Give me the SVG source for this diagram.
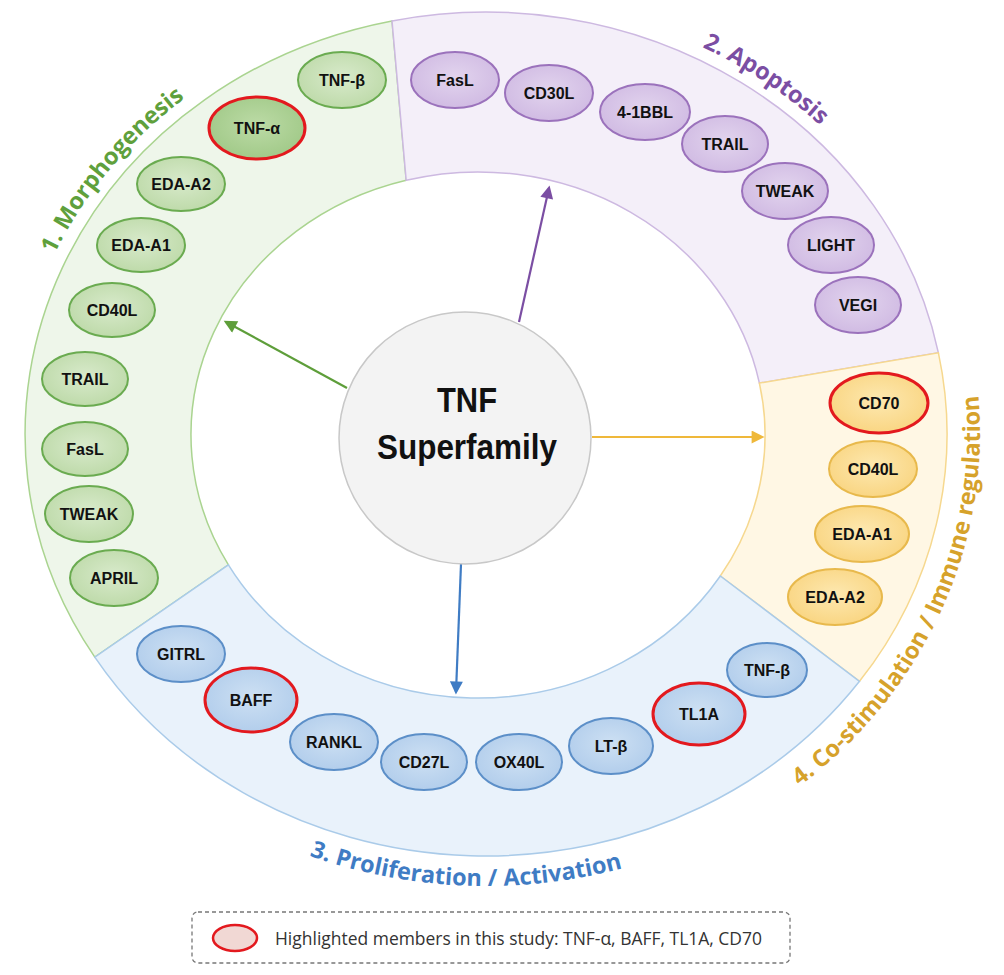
<svg xmlns="http://www.w3.org/2000/svg" width="1004" height="975" viewBox="0 0 1004 975">
<defs>
<radialGradient id="gG" cx="50%" cy="45%" r="60%"><stop offset="0" stop-color="#d8eacb"/><stop offset="1" stop-color="#bcd9a7"/></radialGradient>
<radialGradient id="gGd" cx="50%" cy="45%" r="60%"><stop offset="0" stop-color="#bcdba6"/><stop offset="1" stop-color="#9fc886"/></radialGradient>
<radialGradient id="gP" cx="50%" cy="45%" r="60%"><stop offset="0" stop-color="#e2d4ee"/><stop offset="1" stop-color="#cfb9e2"/></radialGradient>
<radialGradient id="gY" cx="50%" cy="45%" r="60%"><stop offset="0" stop-color="#fde8b0"/><stop offset="1" stop-color="#f9d47f"/></radialGradient>
<radialGradient id="gB" cx="50%" cy="45%" r="60%"><stop offset="0" stop-color="#cde0f3"/><stop offset="1" stop-color="#b0cceb"/></radialGradient>
<marker id="aG" viewBox="0 0 10 10" refX="8" refY="5" markerUnits="userSpaceOnUse" markerWidth="15" markerHeight="13" orient="auto"><path d="M0,0 L10,5 L0,10 z" fill="#5e9e3a"/></marker>
<marker id="aP" viewBox="0 0 10 10" refX="8" refY="5" markerUnits="userSpaceOnUse" markerWidth="15" markerHeight="13" orient="auto"><path d="M0,0 L10,5 L0,10 z" fill="#7b4ea3"/></marker>
<marker id="aY" viewBox="0 0 10 10" refX="8" refY="5" markerUnits="userSpaceOnUse" markerWidth="15" markerHeight="13" orient="auto"><path d="M0,0 L10,5 L0,10 z" fill="#efb83a"/></marker>
<marker id="aB" viewBox="0 0 10 10" refX="8" refY="5" markerUnits="userSpaceOnUse" markerWidth="15" markerHeight="13" orient="auto"><path d="M0,0 L10,5 L0,10 z" fill="#3f7cc4"/></marker>
<path id="tp1" d="M 15.5 381 A 474 435 0 0 1 300.8 33.6"/>
<path id="tp2" d="M 539.7 1.8 A 474 435 0 0 1 920.7 260.6"/>
<path id="tp3" d="M 204.4 804.3 A 491 452 0 0 0 731.5 825.4"/>
<path id="tp4" d="M 710.3 840.3 A 494 456 0 0 0 955.8 293.1"/>
</defs>
<style>
.node text{font-family:"Liberation Sans",Arial,sans-serif;font-weight:bold;font-size:16px;fill:#111;text-anchor:middle}
.gn{fill:url(#gG);stroke:#6aab50;stroke-width:2}
.pn{fill:url(#gP);stroke:#9b72bc;stroke-width:2}
.yn{fill:url(#gY);stroke:#e8b94c;stroke-width:2}
.bn{fill:url(#gB);stroke:#5c8fc8;stroke-width:2}
.hl{stroke:#e3191e;stroke-width:3}
.title{font-family:"Open Sans","Liberation Sans",sans-serif;font-weight:700;font-size:23.5px}
.conn line{stroke-width:2.2;fill:none}
</style>
<rect width="1004" height="975" fill="#ffffff"/>
<g id="sectors">
<path id="sec-morphogenesis" d="M 94.8 657.2 A 461 422 0 0 1 392 20.9 L 406.2 180.3 A 287 263 0 0 0 228.4 564.8 Z" fill="#eef6ea" stroke="#aad490" stroke-width="1.5"/>
<path id="sec-apoptosis" d="M 392 20.9 A 461 422 0 0 1 938.4 352.8 L 759.4 383.1 A 287 263 0 0 0 406.2 180.3 Z" fill="#f4eff9" stroke="#cdb9e1" stroke-width="1.5"/>
<path id="sec-costim" d="M 938.4 352.8 A 461 422 0 0 1 859.5 681.3 L 720.3 576 A 287 263 0 0 0 759.4 383.1 Z" fill="#fff7e4" stroke="#f6d88f" stroke-width="1.5"/>
<path id="sec-prolif" d="M 859.5 681.3 A 461 422 0 0 1 94.8 657.2 L 228.4 564.8 A 287 263 0 0 0 720.3 576 Z" fill="#e9f2fb" stroke="#aacbe9" stroke-width="1.5"/>
</g>
<g id="titles">
<text class="title" fill="#5fa03c"><textPath href="#tp1" startOffset="50%" text-anchor="middle">1. Morphogenesis</textPath></text>
<text class="title" fill="#7b4ea3"><textPath href="#tp2" startOffset="50%" text-anchor="middle">2. Apoptosis</textPath></text>
<text class="title" fill="#3f7cc4"><textPath href="#tp3" startOffset="50%" text-anchor="middle">3. Proliferation / Activation</textPath></text>
<text class="title" fill="#d6a22b"><textPath href="#tp4" startOffset="50%" text-anchor="middle">4. Co-stimulation / Immune regulation</textPath></text>
</g>
<g id="connectors" class="conn">
<line x1="347" y1="388" x2="226" y2="322" stroke="#5e9e3a" marker-end="url(#aG)"/>
<line x1="519" y1="322" x2="549" y2="188" stroke="#7b4ea3" marker-end="url(#aP)"/>
<line x1="592" y1="437" x2="762" y2="437" stroke="#efb83a" marker-end="url(#aY)"/>
<line x1="461" y1="564" x2="456" y2="692" stroke="#3f7cc4" marker-end="url(#aB)"/>
</g>
<g id="center">
<circle cx="465" cy="438" r="126" fill="#f3f3f3" stroke="#c8c8c8" stroke-width="1.5"/>
<text x="467" y="412" font-family="Liberation Sans,Arial,sans-serif" font-weight="bold" font-size="35" fill="#111" text-anchor="middle" textLength="60" lengthAdjust="spacingAndGlyphs">TNF</text>
<text x="467" y="459" font-family="Liberation Sans,Arial,sans-serif" font-weight="bold" font-size="35" fill="#111" text-anchor="middle" textLength="180" lengthAdjust="spacingAndGlyphs">Superfamily</text>
</g>
<g id="g-tnfb" class="node"><ellipse class="gn" cx="342" cy="80" rx="44" ry="28"/><text x="342" y="86">TNF-β</text></g>
<g id="g-tnfa" class="node"><ellipse class="gn hl" style="fill:url(#gGd)" cx="257" cy="128" rx="48" ry="31"/><text x="257" y="134">TNF-α</text></g>
<g id="g-edaa2" class="node"><ellipse class="gn" cx="181" cy="184" rx="44" ry="27"/><text x="181" y="190">EDA-A2</text></g>
<g id="g-edaa1" class="node"><ellipse class="gn" cx="141" cy="245" rx="44" ry="27"/><text x="141" y="251">EDA-A1</text></g>
<g id="g-cd40l" class="node"><ellipse class="gn" cx="112" cy="310" rx="43" ry="27"/><text x="112" y="316">CD40L</text></g>
<g id="g-trail" class="node"><ellipse class="gn" cx="85" cy="379" rx="43" ry="27"/><text x="85" y="385">TRAIL</text></g>
<g id="g-fasl" class="node"><ellipse class="gn" cx="85" cy="449" rx="43" ry="27"/><text x="85" y="455">FasL</text></g>
<g id="g-tweak" class="node"><ellipse class="gn" cx="89" cy="514" rx="44" ry="28"/><text x="89" y="520">TWEAK</text></g>
<g id="g-april" class="node"><ellipse class="gn" cx="114" cy="578" rx="44" ry="28"/><text x="114" y="584">APRIL</text></g>
<g id="p-fasl" class="node"><ellipse class="pn" cx="455" cy="80" rx="44" ry="28"/><text x="455" y="86">FasL</text></g>
<g id="p-cd30l" class="node"><ellipse class="pn" cx="549" cy="93" rx="44" ry="28"/><text x="549" y="99">CD30L</text></g>
<g id="p-41bbl" class="node"><ellipse class="pn" cx="645" cy="112" rx="45" ry="28"/><text x="645" y="118">4-1BBL</text></g>
<g id="p-trail" class="node"><ellipse class="pn" cx="725" cy="144" rx="43" ry="28"/><text x="725" y="150">TRAIL</text></g>
<g id="p-tweak" class="node"><ellipse class="pn" cx="785" cy="191" rx="43" ry="28"/><text x="785" y="197">TWEAK</text></g>
<g id="p-light" class="node"><ellipse class="pn" cx="831" cy="245" rx="43" ry="28"/><text x="831" y="251">LIGHT</text></g>
<g id="p-vegi" class="node"><ellipse class="pn" cx="858" cy="305" rx="43" ry="28"/><text x="858" y="311">VEGI</text></g>
<g id="y-cd70" class="node"><ellipse class="yn hl" cx="879" cy="403" rx="49" ry="30"/><text x="879" y="409">CD70</text></g>
<g id="y-cd40l" class="node"><ellipse class="yn" cx="873" cy="469" rx="44" ry="28"/><text x="873" y="475">CD40L</text></g>
<g id="y-edaa1" class="node"><ellipse class="yn" cx="862" cy="534" rx="47" ry="28"/><text x="862" y="540">EDA-A1</text></g>
<g id="y-edaa2" class="node"><ellipse class="yn" cx="835" cy="597" rx="47" ry="28"/><text x="835" y="603">EDA-A2</text></g>
<g id="b-gitrl" class="node"><ellipse class="bn" cx="181" cy="654" rx="44" ry="28"/><text x="181" y="660">GITRL</text></g>
<g id="b-baff" class="node"><ellipse class="bn hl" cx="251" cy="700" rx="46" ry="32"/><text x="251" y="706">BAFF</text></g>
<g id="b-rankl" class="node"><ellipse class="bn" cx="334" cy="742" rx="44" ry="28"/><text x="334" y="748">RANKL</text></g>
<g id="b-cd27l" class="node"><ellipse class="bn" cx="424" cy="762" rx="43" ry="28"/><text x="424" y="768">CD27L</text></g>
<g id="b-ox40l" class="node"><ellipse class="bn" cx="519" cy="762" rx="43" ry="28"/><text x="519" y="768">OX40L</text></g>
<g id="b-ltb" class="node"><ellipse class="bn" cx="611" cy="746" rx="42" ry="28"/><text x="611" y="752">LT-β</text></g>
<g id="b-tl1a" class="node"><ellipse class="bn hl" cx="699" cy="714" rx="46" ry="31"/><text x="699" y="720">TL1A</text></g>
<g id="b-tnfb" class="node"><ellipse class="bn" cx="767" cy="670" rx="40" ry="27"/><text x="767" y="676">TNF-β</text></g>
<g id="legend">
<rect x="192" y="912" width="598" height="51" rx="6" fill="none" stroke="#777" stroke-width="1.3" stroke-dasharray="4 3"/>
<ellipse cx="235" cy="938" rx="22" ry="13" fill="#f1d8d4" stroke="#e3191e" stroke-width="2.5"/>
<text x="275" y="945" font-family="Open Sans,Liberation Sans,sans-serif" font-size="18" fill="#333" textLength="487" lengthAdjust="spacingAndGlyphs">Highlighted members in this study: TNF-α, BAFF, TL1A, CD70</text>
</g>
</svg>
